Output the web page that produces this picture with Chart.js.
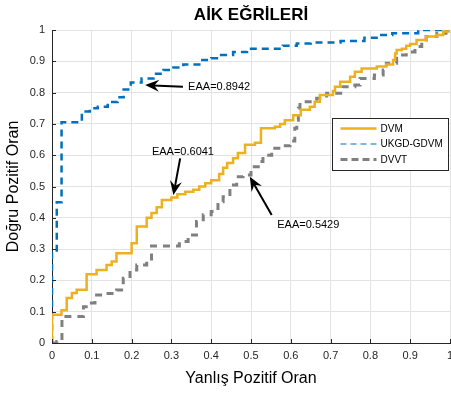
<!DOCTYPE html>
<html>
<head>
<meta charset="utf-8">
<script src="https://cdn.jsdelivr.net/npm/chart.js@4"></script>
<style>
  body { margin: 0; background: #fff; }
  canvas { display: block; }
</style>
</head>
<body>
<canvas id="roc" width="451" height="393"></canvas>
<script>
// ROC points as (x where the step rises, new y level)
const dvmX = [0, 0, 0.024, 0.037, 0.05, 0.062, 0.087, 0.112, 0.137, 0.15, 0.162, 0.2, 0.213, 0.238, 0.25, 0.263, 0.276, 0.3, 0.315, 0.335, 0.355, 0.37, 0.385, 0.4, 0.42, 0.43, 0.44, 0.455, 0.467, 0.485, 0.51, 0.525, 0.56, 0.573, 0.585, 0.606, 0.625, 0.648, 0.66, 0.673, 0.706, 0.711, 0.724, 0.749, 0.761, 0.778, 0.816, 0.84, 0.857, 0.862, 0.866, 0.879, 0.89, 0.9, 0.916, 0.94, 0.967, 0.983, 1];
const dvmY = [0, 0.09, 0.105, 0.144, 0.16, 0.17, 0.22, 0.233, 0.249, 0.26, 0.287, 0.319, 0.372, 0.4, 0.415, 0.434, 0.457, 0.465, 0.475, 0.483, 0.49, 0.5, 0.51, 0.52, 0.54, 0.56, 0.575, 0.59, 0.607, 0.633, 0.64, 0.686, 0.691, 0.7, 0.712, 0.728, 0.745, 0.755, 0.771, 0.792, 0.805, 0.819, 0.835, 0.851, 0.867, 0.877, 0.883, 0.89, 0.904, 0.925, 0.936, 0.94, 0.95, 0.955, 0.968, 0.979, 0.984, 0.995, 1];

const ukgdX = [0, 0, 0.012, 0.024, 0.075, 0.095, 0.115, 0.14, 0.165, 0.18, 0.198, 0.225, 0.255, 0.28, 0.305, 0.33, 0.37, 0.4, 0.425, 0.455, 0.49, 0.58, 0.615, 0.65, 0.725, 0.785, 0.82, 0.855, 0.92, 1];
const ukgdY = [0, 0.29, 0.45, 0.705, 0.74, 0.75, 0.755, 0.77, 0.785, 0.81, 0.832, 0.845, 0.86, 0.872, 0.88, 0.89, 0.904, 0.91, 0.92, 0.93, 0.94, 0.95, 0.957, 0.96, 0.965, 0.975, 0.984, 0.99, 1, 1];

const dvvtX = [0, 0.012, 0.025, 0.079, 0.095, 0.108, 0.137, 0.162, 0.179, 0.196, 0.213, 0.238, 0.25, 0.32, 0.342, 0.363, 0.38, 0.4, 0.417, 0.43, 0.447, 0.464, 0.48, 0.5, 0.523, 0.53, 0.552, 0.575, 0.598, 0.61, 0.615, 0.619, 0.623, 0.665, 0.69, 0.731, 0.761, 0.774, 0.81, 0.832, 0.84, 0.866, 0.89, 0.912, 0.929, 0.94, 0.967, 0.99, 1];
const dvvtY = [0, 0.005, 0.085, 0.116, 0.128, 0.153, 0.158, 0.169, 0.207, 0.233, 0.249, 0.26, 0.31, 0.324, 0.345, 0.388, 0.41, 0.42, 0.451, 0.467, 0.505, 0.531, 0.537, 0.563, 0.58, 0.6, 0.622, 0.63, 0.645, 0.686, 0.712, 0.75, 0.771, 0.782, 0.798, 0.819, 0.824, 0.845, 0.856, 0.872, 0.894, 0.92, 0.93, 0.947, 0.968, 0.979, 0.99, 1, 1];

const seriesNames = ['DVM', 'UKGD-GDVM', 'DVVT'];
const tickLabels = ['0', '0.1', '0.2', '0.3', '0.4', '0.5', '0.6', '0.7', '0.8', '0.9', '1'];

// EAA notes: text position, arrow tail, arrow tip (data units)
const notes = [
  { text: 'EAA=0.8942', tx: 0.342, ty: 0.818, align: 'left', from: [0.329, 0.819], to: [0.234, 0.824] },
  { text: 'EAA=0.6041', tx: 0.329, ty: 0.611, align: 'center', from: [0.322, 0.59], to: [0.305, 0.473] },
  { text: 'EAA=0.5429', tx: 0.566, ty: 0.377, align: 'left', from: [0.552, 0.409], to: [0.497, 0.531] }
];

const FONT = '"Liberation Sans", Arial, Helvetica, sans-serif';

function pts(xs, ys) {
  return xs.map((x, i) => ({ x: x, y: ys[i] }));
}

function arrow(c, x1, y1, x2, y2) {
  const a = Math.atan2(y2 - y1, x2 - x1);
  const len = 14, wid = 6;
  c.save();
  c.strokeStyle = '#000';
  c.fillStyle = '#000';
  c.lineWidth = 2;
  c.beginPath();
  c.moveTo(x1, y1);
  c.lineTo(x2 - Math.cos(a) * 8, y2 - Math.sin(a) * 8);
  c.stroke();
  c.translate(x2, y2);
  c.rotate(a);
  c.beginPath();
  c.moveTo(0, 0);
  c.lineTo(-len, -wid);
  c.lineTo(-len * 0.65, 0);
  c.lineTo(-len, wid);
  c.closePath();
  c.fill();
  c.restore();
}

const extras = {
  id: 'extras',
  afterDatasetsDraw(chart) {
    const c = chart.ctx;
    const xs = chart.scales.x, ys = chart.scales.y;
    const area = chart.chartArea;

    // inward ticks like the original
    c.save();
    c.strokeStyle = '#262626';
    c.lineWidth = 1;
    tickLabels.forEach((t, i) => {
      const v = i / 10;
      const px = Math.round(xs.getPixelForValue(v)) + 0.5;
      const py = Math.round(ys.getPixelForValue(v)) + 0.5;
      c.beginPath();
      c.moveTo(px, area.bottom); c.lineTo(px, area.bottom - 4);
      c.moveTo(area.left, py); c.lineTo(area.left + 4, py);
      c.stroke();
    });
    c.restore();

    // annotations
    c.save();
    c.font = '11px ' + FONT;
    c.fillStyle = '#000';
    c.textBaseline = 'middle';
    notes.forEach(n => {
      c.textAlign = n.align;
      c.fillText(n.text, xs.getPixelForValue(n.tx), ys.getPixelForValue(n.ty));
      arrow(c, xs.getPixelForValue(n.from[0]), ys.getPixelForValue(n.from[1]),
        xs.getPixelForValue(n.to[0]), ys.getPixelForValue(n.to[1]));
    });
    c.restore();

    // legend box inside the axes
    const w = 116, h = 52;
    const bx = area.right - w - 2 + 0.5, by = area.top + 88 + 0.5;
    c.save();
    c.fillStyle = '#fff';
    c.fillRect(bx, by, w, h);
    c.strokeStyle = '#262626';
    c.lineWidth = 1;
    c.strokeRect(bx, by, w, h);
    c.font = '10px ' + FONT;
    c.textAlign = 'left';
    c.textBaseline = 'middle';
    chart.data.datasets.forEach((ds, i) => {
      const yy = by + 10 + i * 15.5;
      c.strokeStyle = ds.borderColor;
      c.lineWidth = i === 1 ? 1 : ds.borderWidth;
      c.setLineDash(i === 0 ? [] : (i === 1 ? [6, 4] : [7, 4]));
      c.beginPath();
      c.moveTo(bx + 8, yy);
      c.lineTo(bx + 44, yy);
      c.stroke();
      c.setLineDash([]);
      c.fillStyle = '#000';
      c.fillText(seriesNames[i], bx + 48, yy + 0.5);
    });
    c.restore();
  }
};

new Chart(document.getElementById('roc'), {
  type: 'scatter',
  data: {
    datasets: [
      { label: seriesNames[0], data: pts(dvmX, dvmY), borderColor: '#EDB120', borderWidth: 2.5, stepped: true },
      { label: seriesNames[1], data: pts(ukgdX, ukgdY), borderColor: '#0072BD', borderWidth: 2.5, borderDash: [7, 5], stepped: true },
      { label: seriesNames[2], data: pts(dvvtX, dvvtY), borderColor: '#808080', borderWidth: 3, borderDash: [7, 6], stepped: true }
    ].map(d => Object.assign(d, { showLine: true, pointRadius: 0, fill: false, order: 0 }))
  },
  options: {
    responsive: false,
    animation: false,
    layout: { padding: { top: 0, right: 1, bottom: 0, left: 0 } },
    plugins: {
      legend: { display: false },
      tooltip: { enabled: false },
      title: {
        display: true,
        fullSize: false,
        text: 'AİK EĞRİLERİ',
        color: '#000',
        font: { family: FONT, size: 17, weight: 'bold' },
        padding: { top: 5, bottom: 4.6 }
      }
    },
    scales: {
      x: {
        type: 'linear', min: 0, max: 1,
        border: { color: '#262626', width: 1 },
        grid: { color: '#e3e3e3', drawTicks: false },
        ticks: {
          stepSize: 0.1, padding: 6, color: '#262626', maxRotation: 0,
          font: { family: FONT, size: 11 },
          callback: (v, i) => tickLabels[i]
        },
        title: {
          display: true, text: 'Yanlış Pozitif Oran', color: '#000',
          font: { family: FONT, size: 16 }, padding: { top: 0, bottom: 5 }
        },
        afterFit(s) { s.height = 50; s.paddingLeft = 0; s.paddingRight = 0; }
      },
      y: {
        type: 'linear', min: 0, max: 1,
        border: { color: '#262626', width: 1 },
        grid: { color: '#e3e3e3', drawTicks: false },
        ticks: {
          stepSize: 0.1, padding: 7, color: '#262626',
          font: { family: FONT, size: 11 },
          callback: (v, i) => tickLabels[i]
        },
        title: {
          display: true, text: 'Doğru Pozitif Oran', color: '#000',
          font: { family: FONT, size: 16 }, padding: { top: 4, bottom: 0 }
        },
        afterFit(s) { s.width = 52; s.paddingTop = 0; s.paddingBottom = 0; }
      }
    }
  },
  plugins: [extras]
});
</script>
</body>
</html>
